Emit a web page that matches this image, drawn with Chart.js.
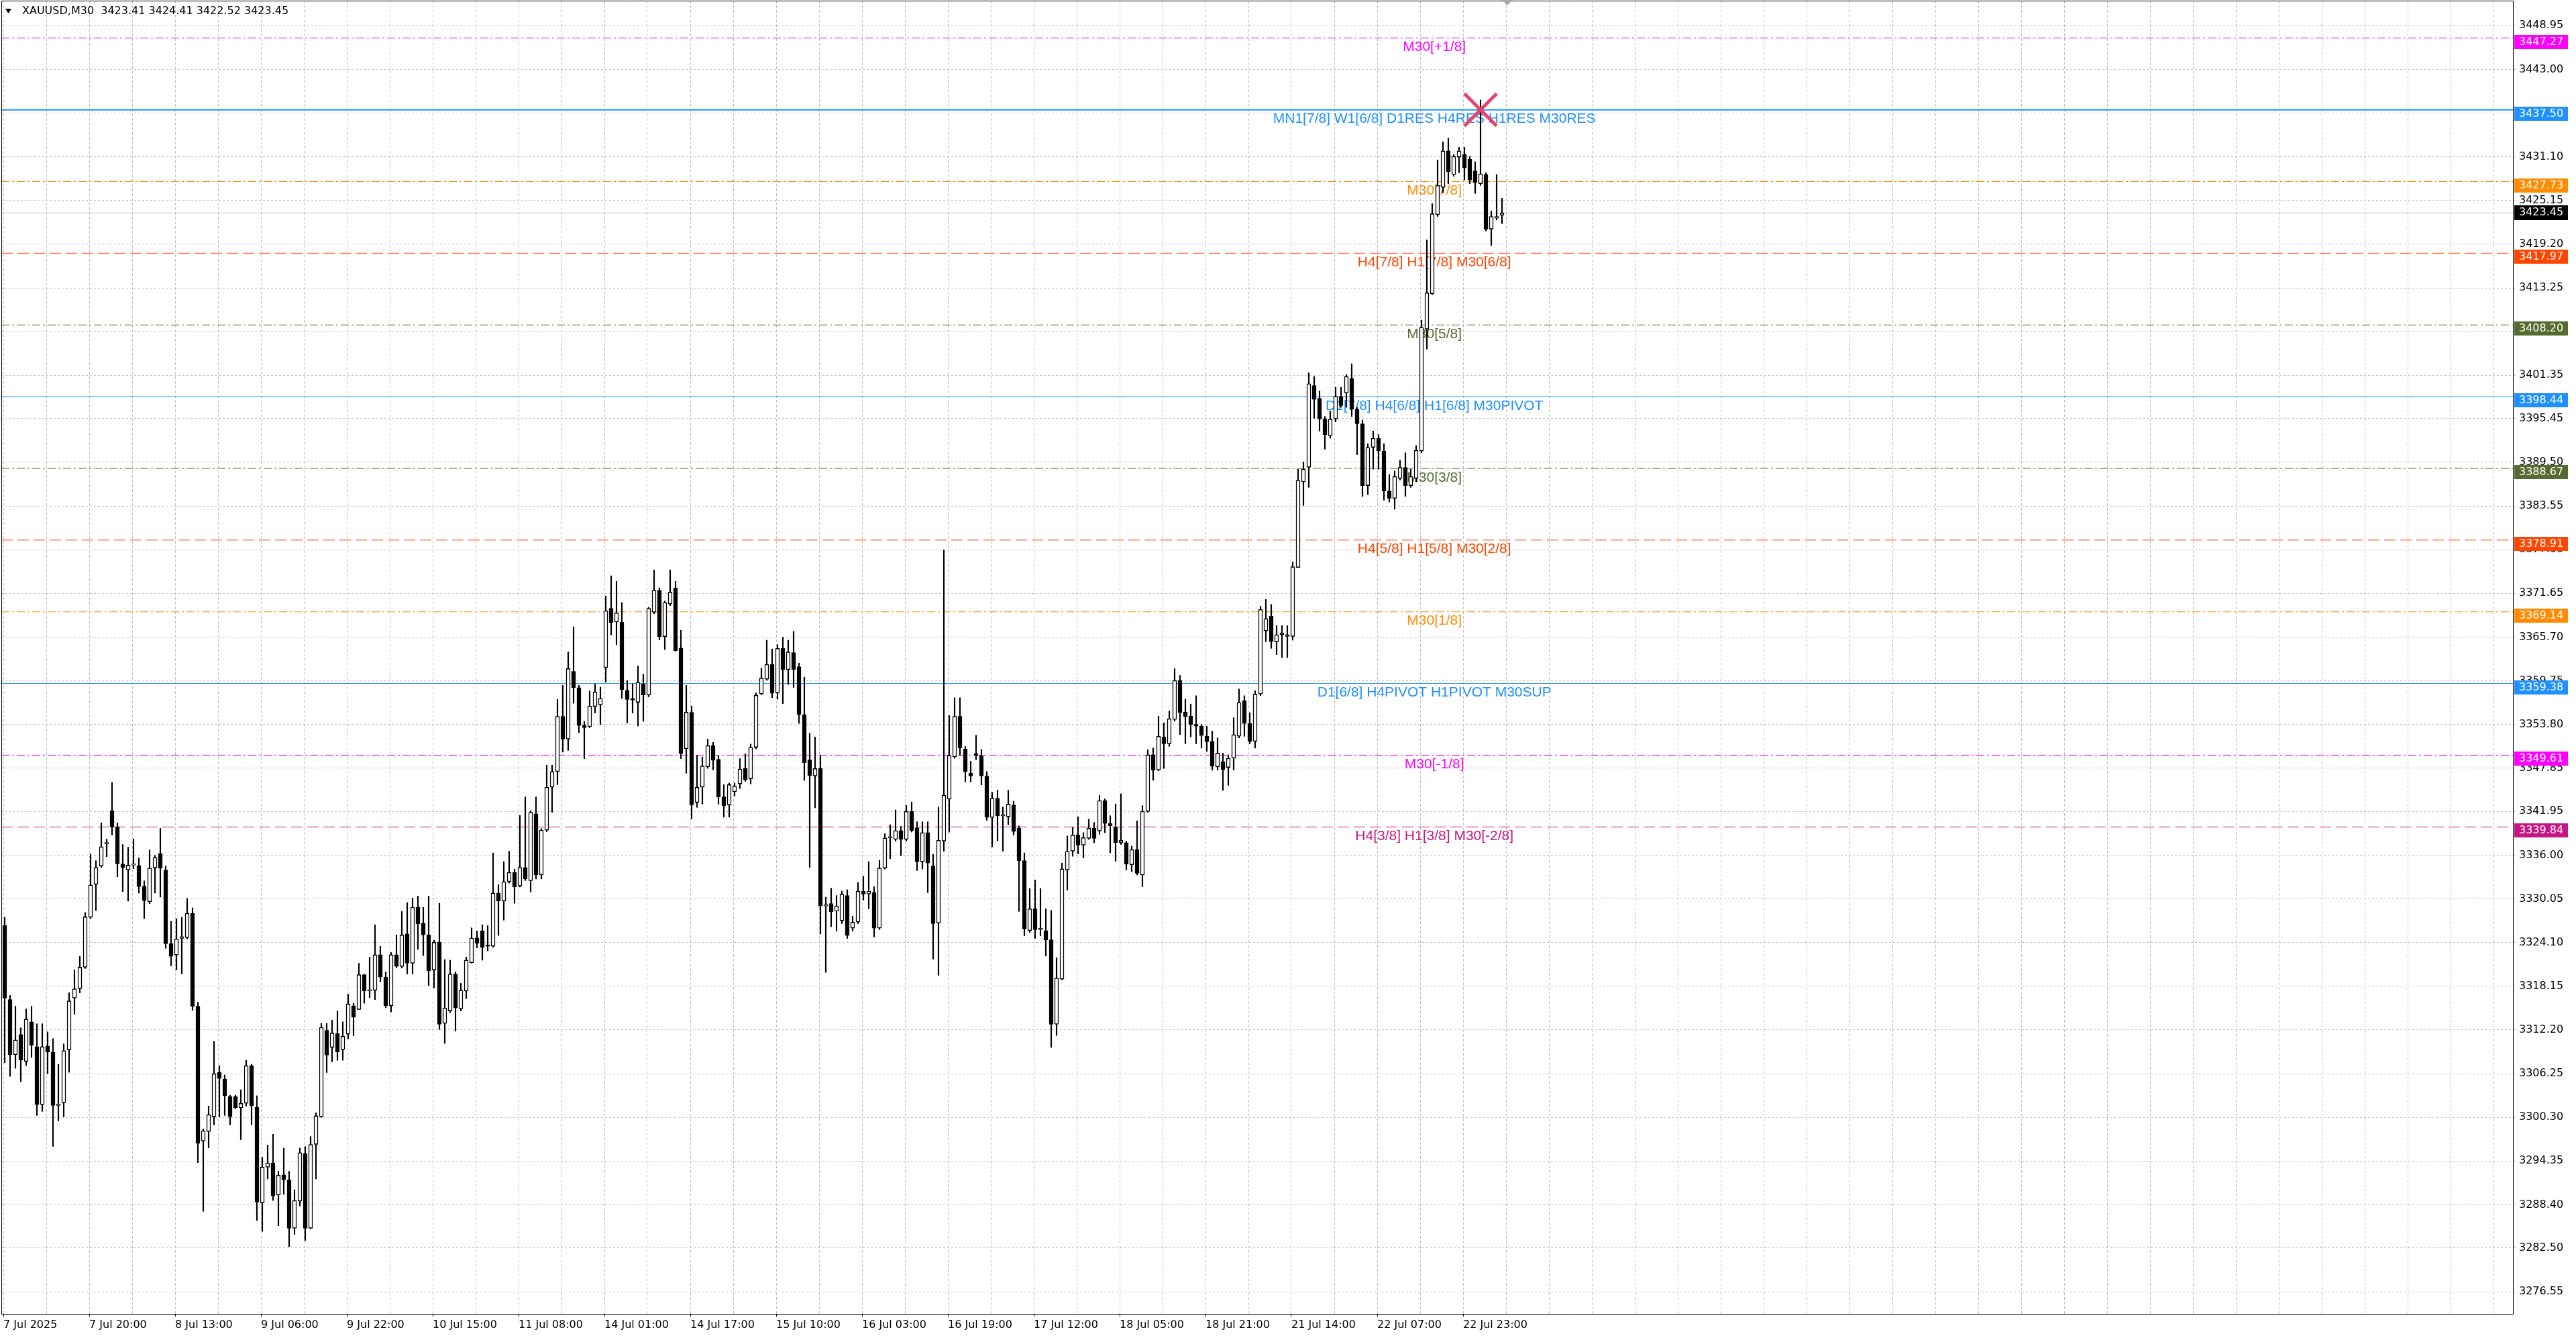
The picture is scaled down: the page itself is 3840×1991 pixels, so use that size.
<!DOCTYPE html>
<html>
<head>
<meta charset="utf-8">
<script src="https://cdn.jsdelivr.net/npm/chart.js@4.4.1/dist/chart.umd.min.js"></script>
<style>
  html, body { margin: 0; padding: 0; background: #fff; }
</style>
</head>
<body>
<canvas id="grafico" width="3840" height="1991"></canvas>
<script>
// velas de una hora (cada una junta dos barras M30)
const aperturas = [
  3326.44, 3316.35, 3308.83, 3311.57, 3307.90, 3313.30, 3309.92, 3302.03, 3309.99, 3309.19,
  3301.92, 3302.29, 3309.48, 3316.53, 3317.81, 3320.75, 3327.54, 3332.02, 3334.52, 3337.53,
  3342.04, 3339.84, 3334.81, 3334.00, 3334.63, 3334.59, 3331.76, 3329.67, 3334.26, 3336.24,
  3333.97, 3323.94, 3322.40, 3324.68, 3324.79, 3328.09, 3315.43, 3297.07, 3298.36, 3300.38,
  3306.43, 3305.52, 3303.13, 3303.13, 3301.59, 3302.21, 3307.35, 3301.65, 3288.64, 3293.51,
  3294.10, 3289.73, 3292.46, 3291.79, 3285.20, 3288.89, 3295.35, 3285.20, 3296.61, 3300.39,
  3312.13, 3309.83, 3311.72, 3309.53, 3311.63, 3315.49, 3314.99, 3319.73, 3317.50, 3317.59,
  3322.45, 3319.39, 3315.49, 3322.45, 3320.86, 3325.27, 3321.28, 3328.91, 3326.73, 3325.14,
  3320.36, 3324.13, 3313.10, 3314.78, 3319.81, 3315.07, 3317.50, 3321.36, 3324.72, 3325.68,
  3323.80, 3323.59, 3330.84, 3329.75, 3332.40, 3333.65, 3331.79, 3334.31, 3332.54, 3341.62,
  3333.30, 3339.41, 3345.25, 3347.38, 3354.91, 3351.81, 3361.02, 3358.81, 3353.67, 3353.49,
  3356.24, 3356.46, 3361.55, 3369.61, 3367.75, 3367.75, 3358.45, 3357.34, 3356.81, 3359.34,
  3357.79, 3369.08, 3372.09, 3365.76, 3370.19, 3372.40, 3364.21, 3350.48, 3355.44, 3343.17,
  3345.25, 3348.04, 3350.92, 3349.06, 3343.93, 3342.86, 3344.63, 3345.70, 3347.82, 3346.40,
  3350.70, 3357.96, 3359.97, 3361.98, 3358.12, 3364.15, 3361.26, 3363.59, 3361.66, 3355.14,
  3348.99, 3346.78, 3347.79, 3329.09, 3329.41, 3328.37, 3327.08, 3330.50, 3326.07, 3326.88,
  3331.10, 3330.70, 3330.90, 3326.07, 3334.24, 3338.34, 3338.14, 3339.34, 3338.14, 3341.96,
  3339.74, 3335.12, 3339.06, 3334.52, 3326.76, 3337.93, 3343.64, 3349.39, 3354.90, 3350.48,
  3347.18, 3349.80, 3349.59, 3346.78, 3341.15, 3343.76, 3341.35, 3341.23, 3342.84, 3339.67,
  3335.25, 3325.72, 3328.71, 3325.86, 3325.72, 3324.47, 3312.97, 3319.13, 3334.00, 3336.54,
  3338.75, 3337.37, 3338.29, 3339.67, 3339.30, 3343.44, 3340.31, 3339.76, 3337.69, 3337.69,
  3334.70, 3336.77, 3333.31, 3341.97, 3349.66, 3347.58, 3352.10, 3351.17, 3354.49, 3359.78,
  3355.50, 3354.95, 3353.80, 3353.57, 3352.19, 3351.50, 3348.04, 3348.74, 3347.95, 3349.20,
  3352.19, 3357.02, 3353.94, 3351.50, 3357.94, 3366.55, 3368.53, 3365.03, 3366.02, 3365.78,
  3365.78, 3375.18, 3386.83, 3388.81, 3399.95, 3398.22, 3395.39, 3393.12, 3395.39, 3398.47,
  3398.96, 3400.94, 3396.73, 3394.75, 3386.33, 3391.53, 3392.77, 3391.04, 3385.59, 3384.60,
  3387.32, 3388.81, 3386.33, 3387.32, 3391.04, 3407.63, 3412.43, 3423.23, 3426.95, 3431.90,
  3428.68, 3431.06, 3431.41, 3430.76, 3429.18, 3427.44, 3428.68, 3421.25, 3422.74, 3423.13
];
const maximos = [
  3327.54, 3316.90, 3315.43, 3312.49, 3315.06, 3315.43, 3313.04, 3313.04, 3311.94, 3311.02,
  3307.53, 3310.29, 3317.26, 3320.38, 3322.22, 3328.20, 3336.17, 3335.25, 3340.39, 3338.19,
  3345.90, 3340.39, 3337.45, 3337.09, 3338.19, 3335.62, 3332.50, 3336.72, 3335.98, 3339.66,
  3334.52, 3326.99, 3327.36, 3327.54, 3330.11, 3328.83, 3315.98, 3298.72, 3301.84, 3310.65,
  3307.35, 3306.07, 3303.31, 3303.31, 3304.05, 3308.08, 3307.53, 3303.24, 3294.85, 3296.53,
  3298.00, 3292.96, 3296.11, 3292.96, 3290.45, 3296.11, 3296.32, 3297.70, 3300.93, 3313.10,
  3313.10, 3313.52, 3314.78, 3313.31, 3317.08, 3315.83, 3321.28, 3319.81, 3322.12, 3326.52,
  3323.59, 3320.11, 3322.75, 3325.14, 3328.33, 3329.54, 3330.17, 3330.43, 3328.91, 3330.43,
  3324.43, 3329.46, 3321.78, 3321.70, 3320.11, 3318.55, 3322.12, 3326.10, 3325.68, 3326.52,
  3326.40, 3336.30, 3331.98, 3335.12, 3336.53, 3334.09, 3341.40, 3343.93, 3342.06, 3343.93,
  3339.63, 3348.26, 3348.26, 3357.21, 3359.12, 3363.68, 3367.09, 3359.12, 3354.24, 3358.36,
  3359.34, 3358.89, 3371.30, 3374.04, 3373.29, 3370.41, 3359.78, 3359.34, 3361.77, 3360.67,
  3369.75, 3374.84, 3372.40, 3370.63, 3374.84, 3373.29, 3366.64, 3359.12, 3356.32, 3349.59,
  3349.37, 3351.81, 3351.36, 3349.59, 3345.61, 3345.83, 3345.83, 3349.15, 3349.82, 3351.14,
  3358.10, 3361.46, 3365.28, 3364.07, 3364.67, 3365.68, 3365.28, 3366.48, 3362.14, 3360.25,
  3352.61, 3352.09, 3349.59, 3330.29, 3331.50, 3330.50, 3331.10, 3331.30, 3327.68, 3332.30,
  3333.11, 3335.12, 3331.70, 3335.32, 3338.94, 3340.15, 3342.16, 3339.94, 3342.76, 3343.24,
  3340.55, 3340.55, 3340.55, 3336.12, 3342.56, 3377.54, 3355.02, 3357.44, 3357.44, 3350.80,
  3348.79, 3352.33, 3350.40, 3347.38, 3344.57, 3344.85, 3342.56, 3344.85, 3343.36, 3339.99,
  3336.31, 3331.47, 3332.62, 3331.47, 3328.71, 3328.48, 3322.03, 3334.92, 3338.61, 3339.76,
  3341.23, 3339.07, 3340.91, 3340.45, 3344.13, 3343.67, 3341.37, 3342.98, 3344.36, 3337.92,
  3337.23, 3340.68, 3342.75, 3350.35, 3350.58, 3354.95, 3354.03, 3355.64, 3361.40, 3360.47,
  3357.25, 3356.56, 3357.71, 3353.80, 3353.57, 3352.88, 3351.96, 3349.89, 3349.66, 3354.72,
  3358.63, 3357.71, 3355.41, 3358.40, 3369.91, 3370.83, 3370.14, 3367.26, 3367.26, 3367.26,
  3375.93, 3388.56, 3389.55, 3401.69, 3401.19, 3399.21, 3395.74, 3396.48, 3399.70, 3399.70,
  3401.44, 3402.92, 3396.98, 3395.25, 3392.03, 3393.76, 3393.26, 3392.03, 3387.82, 3388.31,
  3389.80, 3390.79, 3388.56, 3391.78, 3408.87, 3419.77, 3424.72, 3430.66, 3433.14, 3433.64,
  3431.41, 3432.40, 3432.40, 3431.16, 3430.42, 3438.84, 3428.93, 3423.73, 3428.68, 3425.46
];
const minimos = [
  3307.72, 3305.88, 3306.98, 3305.15, 3307.35, 3308.45, 3300.56, 3301.11, 3306.25, 3296.34,
  3299.82, 3300.38, 3306.43, 3314.33, 3317.26, 3320.57, 3327.36, 3328.46, 3334.33, 3335.80,
  3338.74, 3333.05, 3331.03, 3329.74, 3334.15, 3330.84, 3327.36, 3329.38, 3330.84, 3330.29,
  3323.32, 3320.93, 3320.38, 3319.83, 3324.60, 3314.88, 3294.13, 3287.50, 3296.15, 3299.27,
  3300.38, 3300.56, 3299.27, 3301.48, 3297.26, 3301.84, 3299.27, 3286.25, 3284.78, 3291.91,
  3288.98, 3285.54, 3289.82, 3282.69, 3284.36, 3288.22, 3283.52, 3285.12, 3291.91, 3300.30,
  3306.39, 3307.86, 3308.07, 3308.07, 3311.00, 3311.42, 3314.99, 3315.83, 3316.58, 3316.33,
  3318.76, 3315.20, 3314.65, 3320.65, 3320.65, 3319.81, 3319.81, 3323.17, 3322.33, 3318.26,
  3317.92, 3312.26, 3310.37, 3314.57, 3312.05, 3314.78, 3316.46, 3321.28, 3323.38, 3321.70,
  3322.96, 3323.46, 3325.06, 3327.15, 3332.19, 3329.44, 3331.66, 3332.54, 3330.99, 3332.76,
  3332.76, 3339.19, 3341.84, 3345.61, 3350.04, 3350.26, 3356.68, 3352.69, 3349.15, 3353.36,
  3355.35, 3353.80, 3359.56, 3365.98, 3364.65, 3357.34, 3354.02, 3355.35, 3353.58, 3354.24,
  3357.57, 3368.86, 3365.32, 3363.99, 3369.97, 3363.77, 3349.15, 3347.16, 3340.96, 3342.51,
  3342.95, 3347.82, 3347.60, 3342.95, 3341.18, 3341.18, 3344.06, 3345.07, 3346.05, 3345.70,
  3350.48, 3357.84, 3359.85, 3357.44, 3357.24, 3356.63, 3359.24, 3358.84, 3353.94, 3346.18,
  3334.32, 3342.44, 3325.27, 3320.04, 3326.27, 3325.67, 3326.68, 3324.66, 3325.67, 3326.68,
  3329.89, 3328.69, 3324.87, 3325.87, 3334.11, 3335.52, 3337.93, 3335.92, 3337.93, 3339.14,
  3333.91, 3334.11, 3330.90, 3321.85, 3319.64, 3336.53, 3339.14, 3349.19, 3349.59, 3345.98,
  3345.98, 3348.99, 3345.57, 3340.75, 3337.13, 3337.93, 3336.53, 3340.15, 3338.74, 3328.34,
  3325.03, 3325.49, 3324.66, 3325.03, 3322.26, 3309.83, 3311.45, 3319.04, 3331.24, 3335.85,
  3336.17, 3335.62, 3338.15, 3337.69, 3338.84, 3339.07, 3336.31, 3335.16, 3337.46, 3334.00,
  3333.77, 3333.31, 3331.70, 3341.83, 3346.20, 3347.49, 3347.81, 3350.81, 3354.26, 3352.42,
  3351.17, 3352.10, 3351.17, 3350.58, 3350.12, 3347.58, 3347.58, 3344.82, 3345.51, 3347.58,
  3351.96, 3352.19, 3351.17, 3350.58, 3357.71, 3365.08, 3364.16, 3363.30, 3362.90, 3362.90,
  3365.28, 3375.18, 3383.61, 3386.08, 3395.49, 3393.76, 3391.28, 3392.77, 3395.00, 3396.98,
  3396.98, 3395.74, 3390.54, 3384.85, 3385.09, 3388.56, 3388.56, 3384.35, 3384.10, 3383.11,
  3387.07, 3384.85, 3386.08, 3386.83, 3390.79, 3404.91, 3412.34, 3422.98, 3426.21, 3427.44,
  3428.43, 3428.93, 3427.94, 3427.44, 3426.11, 3427.20, 3421.00, 3419.02, 3422.49, 3421.99
];
const cierres = [
  3316.53, 3308.83, 3310.84, 3308.08, 3313.66, 3310.10, 3302.03, 3309.92, 3309.19, 3301.92,
  3302.10, 3309.37, 3316.16, 3317.81, 3320.75, 3327.61, 3331.95, 3334.33, 3337.16, 3337.64,
  3339.84, 3334.81, 3334.33, 3334.63, 3334.66, 3331.73, 3329.82, 3334.26, 3335.69, 3334.22,
  3323.94, 3322.22, 3324.60, 3324.90, 3328.09, 3315.43, 3296.78, 3298.47, 3300.67, 3306.25,
  3305.59, 3303.24, 3300.38, 3301.59, 3302.21, 3307.35, 3301.84, 3288.77, 3293.51, 3294.10,
  3289.61, 3292.42, 3291.79, 3285.20, 3288.98, 3295.48, 3285.20, 3296.61, 3300.51, 3312.55,
  3308.78, 3311.80, 3309.20, 3311.34, 3315.74, 3313.94, 3319.73, 3317.50, 3317.50, 3322.45,
  3319.39, 3315.49, 3322.45, 3320.86, 3325.14, 3321.28, 3328.91, 3326.65, 3325.14, 3320.23,
  3324.13, 3312.97, 3315.20, 3319.81, 3315.20, 3317.59, 3321.70, 3324.72, 3324.01, 3323.46,
  3323.59, 3330.84, 3329.75, 3332.40, 3333.65, 3331.66, 3334.31, 3332.76, 3341.84, 3333.30,
  3339.41, 3345.25, 3347.38, 3354.91, 3351.81, 3361.42, 3358.81, 3353.67, 3353.36, 3356.32,
  3358.23, 3357.34, 3369.30, 3367.66, 3368.99, 3358.54, 3357.21, 3357.12, 3359.56, 3357.79,
  3369.61, 3372.09, 3365.76, 3370.41, 3371.83, 3363.85, 3349.82, 3355.48, 3342.86, 3345.25,
  3348.13, 3350.92, 3348.93, 3343.93, 3342.73, 3345.61, 3345.39, 3347.73, 3346.27, 3350.70,
  3357.79, 3360.13, 3361.98, 3358.04, 3364.15, 3361.26, 3363.67, 3361.26, 3355.14, 3348.59,
  3346.86, 3347.79, 3329.09, 3329.17, 3328.29, 3329.09, 3330.70, 3325.07, 3326.88, 3331.10,
  3330.70, 3331.10, 3326.07, 3334.24, 3338.34, 3338.34, 3339.34, 3338.14, 3341.96, 3339.34,
  3335.12, 3339.06, 3334.92, 3326.68, 3338.01, 3344.17, 3349.59, 3354.90, 3350.60, 3347.38,
  3346.78, 3349.59, 3346.78, 3341.15, 3343.76, 3341.35, 3341.35, 3342.96, 3339.22, 3335.25,
  3325.95, 3328.71, 3325.86, 3325.95, 3324.47, 3312.97, 3319.27, 3334.14, 3336.54, 3338.75,
  3337.37, 3338.38, 3339.67, 3338.29, 3343.44, 3340.31, 3339.99, 3337.69, 3338.01, 3334.79,
  3336.77, 3333.54, 3341.97, 3349.66, 3347.58, 3352.19, 3351.17, 3354.58, 3359.78, 3355.41,
  3354.86, 3353.80, 3353.57, 3352.28, 3351.45, 3348.14, 3349.89, 3347.68, 3349.20, 3352.42,
  3356.79, 3353.94, 3351.50, 3357.94, 3369.45, 3368.21, 3365.08, 3366.02, 3366.27, 3366.02,
  3375.28, 3387.07, 3388.56, 3400.20, 3398.07, 3395.39, 3393.26, 3395.39, 3398.47, 3397.23,
  3401.19, 3396.73, 3394.75, 3386.33, 3391.53, 3392.77, 3391.04, 3385.59, 3384.60, 3387.57,
  3388.81, 3386.33, 3387.57, 3391.13, 3407.88, 3412.58, 3423.33, 3427.20, 3431.90, 3429.08,
  3431.16, 3431.90, 3429.57, 3427.94, 3427.59, 3428.78, 3421.25, 3422.98, 3422.98, 3423.45
];

const niveles = [3447.27, 3437.50, 3427.73, 3417.97, 3408.20, 3398.44, 3388.67, 3378.91, 3369.14, 3359.38, 3349.61, 3339.84];
const textosNiveles = [
  'M30[+1/8]',
  'MN1[7/8] W1[6/8] D1RES H4RES H1RES M30RES',
  'M30[7/8]',
  'H4[7/8] H1[7/8] M30[6/8]',
  'M30[5/8]',
  'D1[7/8] H4[6/8] H1[6/8] M30PIVOT',
  'M30[3/8]',
  'H4[5/8] H1[5/8] M30[2/8]',
  'M30[1/8]',
  'D1[6/8] H4PIVOT H1PIVOT M30SUP',
  'M30[-1/8]',
  'H4[3/8] H1[3/8] M30[-2/8]'
];
const ticksY = [3448.95, 3443.00, 3437.05, 3431.10, 3425.15, 3419.20, 3413.25, 3407.30, 3401.35, 3395.45,
  3389.50, 3383.55, 3377.60, 3371.65, 3365.70, 3359.75, 3353.80, 3347.85, 3341.95, 3336.00,
  3330.05, 3324.10, 3318.15, 3312.20, 3306.25, 3300.30, 3294.35, 3288.40, 3282.50, 3276.55];
const etiquetasX = ['7 Jul 2025', '7 Jul 20:00', '8 Jul 13:00', '9 Jul 06:00', '9 Jul 22:00', '10 Jul 15:00',
  '11 Jul 08:00', '14 Jul 01:00', '14 Jul 17:00', '15 Jul 10:00', '16 Jul 03:00', '16 Jul 19:00',
  '17 Jul 12:00', '18 Jul 05:00', '18 Jul 21:00', '21 Jul 14:00', '22 Jul 07:00', '22 Jul 23:00'];
const ultimaBarra = [3423.41, 3424.41, 3422.52, 3423.45];
const marcaHora = [275];
const marcaPrecio = [3437.50];

// estilos de cada nivel (mismo orden que niveles)
const DASHDOT = [12, 4, 3, 4];
const DASH = [17, 7];
const estilos = [
  { color: '#FF00FF', dash: DASHDOT, ancho: 1 },
  { color: '#1E90FF', dash: [], ancho: 2 },
  { color: '#FF8C00', dash: DASHDOT, ancho: 1 },
  { color: '#FF4500', dash: DASH, ancho: 1 },
  { color: '#556B2F', dash: DASHDOT, ancho: 1 },
  { color: '#1E90FF', dash: [], ancho: 1 },
  { color: '#556B2F', dash: DASHDOT, ancho: 1 },
  { color: '#FF4500', dash: DASH, ancho: 1 },
  { color: '#FF8C00', dash: DASHDOT, ancho: 1 },
  { color: '#1E90FF', dash: [], ancho: 1 },
  { color: '#FF00FF', dash: DASHDOT, ancho: 1 },
  { color: '#C71585', dash: DASH, ancho: 1 }
];

const X_MIN = -0.625, X_MAX = 467.375;
const Y_MIN = 3273.54, Y_MAX = 3452.36;
const CENTRO_TEXTOS = 266.4;
const precioActual = cierres[cierres.length - 1];

const lineasX = [];
for (let k = 0; k <= 58; k++) lineasX.push(8 * k - 0.25);

Chart.defaults.font.family = '"DejaVu Sans", sans-serif';
Chart.defaults.color = '#000';

const decoracion = {
  id: 'decoracion',
  beforeDatasetsDraw(chart) {
    const { ctx, scales: { x, y } } = chart;
    ctx.save();
    ctx.font = '21px "Liberation Sans", Arial, sans-serif';
    ctx.textAlign = 'center';
    ctx.textBaseline = 'alphabetic';
    niveles.forEach((v, i) => {
      ctx.fillStyle = estilos[i].color;
      ctx.fillText(textosNiveles[i], x.getPixelForValue(CENTRO_TEXTOS), y.getPixelForValue(v) + 19.5);
    });
    ctx.restore();
  },
  afterDraw(chart) {
    const { ctx, chartArea, scales: { x, y } } = chart;
    ctx.save();
    ctx.strokeStyle = '#000';
    ctx.lineWidth = 1;
    ctx.beginPath();
    ctx.moveTo(chartArea.left + 0.5, chartArea.bottom);
    ctx.lineTo(chartArea.left + 0.5, chartArea.top + 0.5);
    ctx.lineTo(chartArea.right, chartArea.top + 0.5);
    ctx.stroke();

    ctx.font = '16px "DejaVu Sans"';
    ctx.textAlign = 'left';
    ctx.textBaseline = 'middle';
    niveles.forEach((v, i) => {
      const py = Math.round(y.getPixelForValue(v));
      ctx.fillStyle = estilos[i].color;
      ctx.fillRect(chartArea.right + 2, py - 5, 80, 21);
      ctx.fillStyle = '#fff';
      ctx.fillText(v.toFixed(2), chartArea.right + 9, py + 5.5);
    });
    const pc = Math.round(y.getPixelForValue(precioActual));
    ctx.fillStyle = '#000';
    ctx.fillRect(chartArea.right + 2, pc - 11, 80, 22);
    ctx.fillStyle = '#fff';
    ctx.fillText(precioActual.toFixed(2), chartArea.right + 9, pc);

    ctx.fillStyle = '#000';
    ctx.fillText('XAUUSD,M30  ' + ultimaBarra.map(v => v.toFixed(2)).join(' '), 33, 17);
    ctx.beginPath();
    ctx.moveTo(8, 13);
    ctx.lineTo(17, 13);
    ctx.lineTo(12.5, 20);
    ctx.closePath();
    ctx.fill();

    const sx = x.getPixelForValue(280);
    ctx.fillStyle = '#a8a8a8';
    ctx.beginPath();
    ctx.moveTo(sx - 8, 0);
    ctx.lineTo(sx + 8, 0);
    ctx.lineTo(sx, 8);
    ctx.closePath();
    ctx.fill();
    ctx.restore();
  }
};

graficar();
function graficar() {
  const velas = aperturas.map((o, j) => j);
  const datasets = [
    {
      type: 'line',
      data: marcaHora.map((h, i) => ({ x: h, y: marcaPrecio[i] })),
      showLine: false,
      pointStyle: 'crossRot',
      pointRadius: 34,
      pointBorderWidth: 5,
      pointBorderColor: '#E6436A',
      order: 0
    },
    {
      type: 'bar',
      data: velas.map(j => ({ x: j, y: [aperturas[j], cierres[j]] })),
      backgroundColor: c => cierres[c.dataIndex] >= aperturas[c.dataIndex] ? '#fff' : '#000',
      borderColor: '#000',
      borderWidth: 1.5,
      borderSkipped: false,
      barThickness: 6,
      minBarLength: 2,
      grouped: false,
      order: 1
    },
    {
      type: 'bar',
      data: velas.map(j => ({ x: j, y: [minimos[j], maximos[j]] })),
      backgroundColor: '#000',
      barThickness: 1.5,
      grouped: false,
      order: 2
    },
    {
      type: 'line',
      data: [{ x: X_MIN, y: precioActual }, { x: X_MAX, y: precioActual }],
      borderColor: '#c0c0c0',
      borderWidth: 1,
      pointRadius: 0,
      order: 4
    }
  ];
  niveles.forEach((v, i) => {
    datasets.push({
      type: 'line',
      data: [{ x: X_MIN, y: v }, { x: X_MAX, y: v }],
      borderColor: estilos[i].color,
      borderWidth: estilos[i].ancho,
      borderDash: estilos[i].dash,
      pointRadius: 0,
      order: 3
    });
  });

  const ctx = document.getElementById('grafico');
  new Chart(ctx, {
    type: 'bar',
    data: { datasets },
    options: {
      responsive: false,
      devicePixelRatio: 1,
      animation: false,
      layout: { autoPadding: false, padding: { left: 2, top: 1, right: 0, bottom: 0 } },
      plugins: { legend: { display: false }, tooltip: { enabled: false } },
      scales: {
        x: {
          type: 'linear',
          min: X_MIN,
          max: X_MAX,
          offset: false,
          bounds: 'data',
          afterFit: s => { s.height = 33; s.paddingLeft = 0; s.paddingRight = 0; },
          afterBuildTicks: s => { s.ticks = lineasX.map(v => ({ value: v })); },
          grid: {
            color: '#c0c0c0',
            offset: false,
            tickLength: 4,
            tickColor: c => (c.tick && c.tick.label) ? '#000' : 'rgba(0,0,0,0)'
          },
          border: { display: true, color: '#000', width: 1, dash: [4, 3] },
          ticks: {
            autoSkip: false,
            maxRotation: 0,
            minRotation: 0,
            align: 'start',
            padding: 3,
            color: '#000',
            font: { size: 16 },
            callback: (v, i) => (i % 2 === 0 && i / 2 < etiquetasX.length) ? etiquetasX[i / 2] : ''
          }
        },
        y: {
          type: 'linear',
          position: 'right',
          min: Y_MIN,
          max: Y_MAX,
          bounds: 'data',
          beginAtZero: false,
          afterFit: s => { s.width = 94; s.paddingTop = 0; s.paddingBottom = 0; },
          afterBuildTicks: s => { s.ticks = ticksY.map(v => ({ value: v })); },
          grid: { color: '#c0c0c0', tickLength: 7, tickColor: '#c0c0c0', tickBorderDash: [3, 3] },
          border: { display: true, color: '#000', width: 1, dash: [3, 3] },
          ticks: {
            autoSkip: false,
            padding: 2,
            crossAlign: 'near',
            color: '#000',
            font: { size: 16 },
            callback: v => v.toFixed(2)
          }
        }
      }
    },
    plugins: [decoracion]
  });
}
</script>
</body>
</html>
